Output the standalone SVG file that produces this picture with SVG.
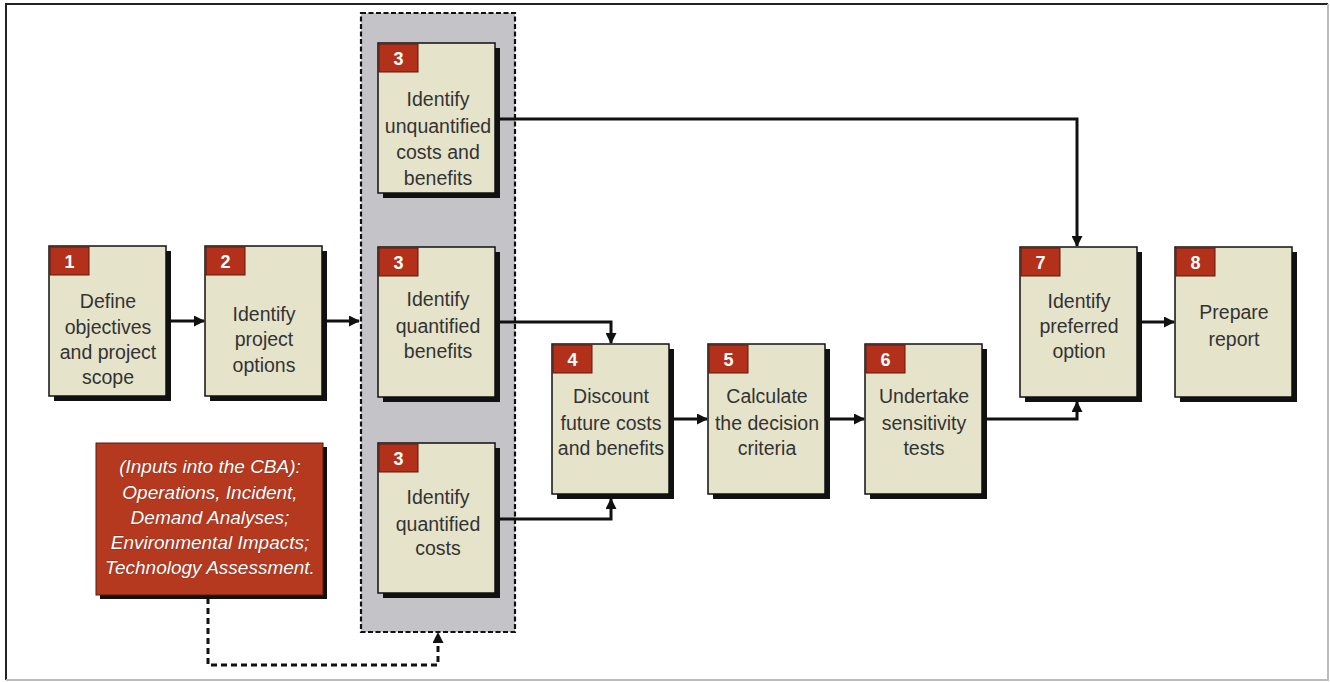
<svg xmlns="http://www.w3.org/2000/svg" width="1330" height="682" viewBox="0 0 1330 682">
<defs>
<style>
.frame-dark{stroke:#222;stroke-width:2;fill:none}
.frame-light{stroke:#bbb;stroke-width:2;fill:none}
.shadow{fill:#111}
.box{fill:#e6e3cb;stroke:#111;stroke-width:1.5}
.badge{fill:#b3311b;stroke:#5a1a0e;stroke-width:1}
.num{font-family:"Liberation Sans",Arial,sans-serif;font-weight:bold;font-size:18px;fill:#fff;text-anchor:middle}
.lbl{font-family:"Liberation Sans",Arial,sans-serif;font-size:19.5px;fill:#333;text-anchor:middle}
.inp{font-family:"Liberation Sans",Arial,sans-serif;font-style:italic;font-size:19px;fill:#fff;text-anchor:middle;stroke:#6a1a0a;stroke-width:0.5;paint-order:stroke}
.conn{stroke:#111;stroke-width:3;fill:none}
.dconn{stroke:#111;stroke-width:3;fill:none;stroke-dasharray:6 4}
</style>
<marker id="arr" markerWidth="11" markerHeight="11" refX="10" refY="5.5" orient="auto" markerUnits="userSpaceOnUse">
<path d="M0,0 L11,5.5 L0,11 Z" fill="#111"/>
</marker>
</defs>
<rect x="0" y="0" width="1330" height="682" fill="#fff"/>
<path class="frame-dark" d="M6,680 V4 H1328"/>
<path class="frame-light" d="M6,680 H1328 V4"/>

<g id="group3">
<rect x="361" y="13" width="154" height="619" fill="#c4c4c8" stroke="#111" stroke-width="2.2" stroke-dasharray="5 2.5"/>
</g>

<g id="connectors">
<path class="conn" marker-end="url(#arr)" d="M166,321 H204"/>
<path class="conn" marker-end="url(#arr)" d="M323,321 H359"/>
<path class="conn" marker-end="url(#arr)" d="M496,119 H1077 V246"/>
<path class="conn" marker-end="url(#arr)" d="M497,322 H611 V343"/>
<path class="conn" marker-end="url(#arr)" d="M496,519 H611 V499"/>
<path class="conn" marker-end="url(#arr)" d="M670,419 H707"/>
<path class="conn" marker-end="url(#arr)" d="M826,419 H864"/>
<path class="conn" marker-end="url(#arr)" d="M983,419 H1077 V402"/>
<path class="conn" marker-end="url(#arr)" d="M1137,322 H1174"/>
<path class="dconn" marker-end="url(#arr)" d="M208,598 V665 H438 V633"/>
</g>

<g id="node1">
<rect class="shadow" x="54" y="251" width="117" height="150"/>
<rect class="box" x="49" y="246" width="117" height="150"/>
<rect class="badge" x="50" y="247" width="39" height="28"/>
<text class="num" x="69.5" y="268">1</text>
<text class="lbl" x="108" y="308">Define</text>
<text class="lbl" x="108" y="334">objectives</text>
<text class="lbl" x="108" y="359">and project</text>
<text class="lbl" x="108" y="384">scope</text>
</g>

<g id="node2">
<rect class="shadow" x="210" y="251" width="117" height="150"/>
<rect class="box" x="205" y="246" width="117" height="150"/>
<rect class="badge" x="206" y="247" width="39" height="28"/>
<text class="num" x="225.5" y="268">2</text>
<text class="lbl" x="264" y="321">Identify</text>
<text class="lbl" x="264" y="346">project</text>
<text class="lbl" x="264" y="372">options</text>
</g>

<g id="node3a">
<rect class="shadow" x="383" y="48" width="117" height="150"/>
<rect class="box" x="378" y="43" width="117" height="150"/>
<rect class="badge" x="379" y="44" width="39" height="28"/>
<text class="num" x="398.5" y="65">3</text>
<text class="lbl" x="438" y="106">Identify</text>
<text class="lbl" x="438" y="133">unquantified</text>
<text class="lbl" x="438" y="159">costs and</text>
<text class="lbl" x="438" y="185">benefits</text>
</g>

<g id="node3b">
<rect class="shadow" x="383" y="252" width="117" height="150"/>
<rect class="box" x="378" y="247" width="117" height="150"/>
<rect class="badge" x="379" y="248" width="39" height="28"/>
<text class="num" x="398.5" y="269">3</text>
<text class="lbl" x="438" y="306">Identify</text>
<text class="lbl" x="438" y="333">quantified</text>
<text class="lbl" x="438" y="358">benefits</text>
</g>

<g id="node3c">
<rect class="shadow" x="383" y="448" width="117" height="150"/>
<rect class="box" x="378" y="443" width="117" height="150"/>
<rect class="badge" x="379" y="444" width="39" height="28"/>
<text class="num" x="398.5" y="465">3</text>
<text class="lbl" x="438" y="504">Identify</text>
<text class="lbl" x="438" y="531">quantified</text>
<text class="lbl" x="438" y="555">costs</text>
</g>

<g id="node4">
<rect class="shadow" x="557" y="349" width="117" height="150"/>
<rect class="box" x="552" y="344" width="117" height="150"/>
<rect class="badge" x="553" y="345" width="39" height="28"/>
<text class="num" x="572.5" y="366">4</text>
<text class="lbl" x="611" y="403">Discount</text>
<text class="lbl" x="611" y="430">future costs</text>
<text class="lbl" x="611" y="455">and benefits</text>
</g>

<g id="node5">
<rect class="shadow" x="713" y="349" width="117" height="150"/>
<rect class="box" x="708" y="344" width="117" height="150"/>
<rect class="badge" x="709" y="345" width="39" height="28"/>
<text class="num" x="728.5" y="366">5</text>
<text class="lbl" x="767" y="403">Calculate</text>
<text class="lbl" x="767" y="430">the decision</text>
<text class="lbl" x="767" y="455">criteria</text>
</g>

<g id="node6">
<rect class="shadow" x="870" y="349" width="117" height="150"/>
<rect class="box" x="865" y="344" width="117" height="150"/>
<rect class="badge" x="866" y="345" width="39" height="28"/>
<text class="num" x="885.5" y="366">6</text>
<text class="lbl" x="924" y="403">Undertake</text>
<text class="lbl" x="924" y="430">sensitivity</text>
<text class="lbl" x="924" y="455">tests</text>
</g>

<g id="node7">
<rect class="shadow" x="1025" y="252" width="117" height="150"/>
<rect class="box" x="1020" y="247" width="117" height="150"/>
<rect class="badge" x="1021" y="248" width="39" height="28"/>
<text class="num" x="1040.5" y="269">7</text>
<text class="lbl" x="1079" y="308">Identify</text>
<text class="lbl" x="1079" y="333">preferred</text>
<text class="lbl" x="1079" y="358">option</text>
</g>

<g id="node8">
<rect class="shadow" x="1180" y="252" width="117" height="150"/>
<rect class="box" x="1175" y="247" width="117" height="150"/>
<rect class="badge" x="1176" y="248" width="39" height="28"/>
<text class="num" x="1195.5" y="269">8</text>
<text class="lbl" x="1234" y="319">Prepare</text>
<text class="lbl" x="1234" y="346">report</text>
</g>

<g id="inputs">
<rect class="shadow" x="100" y="447" width="227" height="152"/>
<rect x="96" y="443" width="227" height="152" fill="#b5391f" stroke="#5a1a0e" stroke-width="1"/>
<text class="inp" x="210" y="473">(Inputs into the CBA):</text>
<text class="inp" x="210" y="499">Operations, Incident,</text>
<text class="inp" x="210" y="524">Demand Analyses;</text>
<text class="inp" x="210" y="549">Environmental Impacts;</text>
<text class="inp" x="210" y="574">Technology Assessment.</text>
</g>
</svg>
